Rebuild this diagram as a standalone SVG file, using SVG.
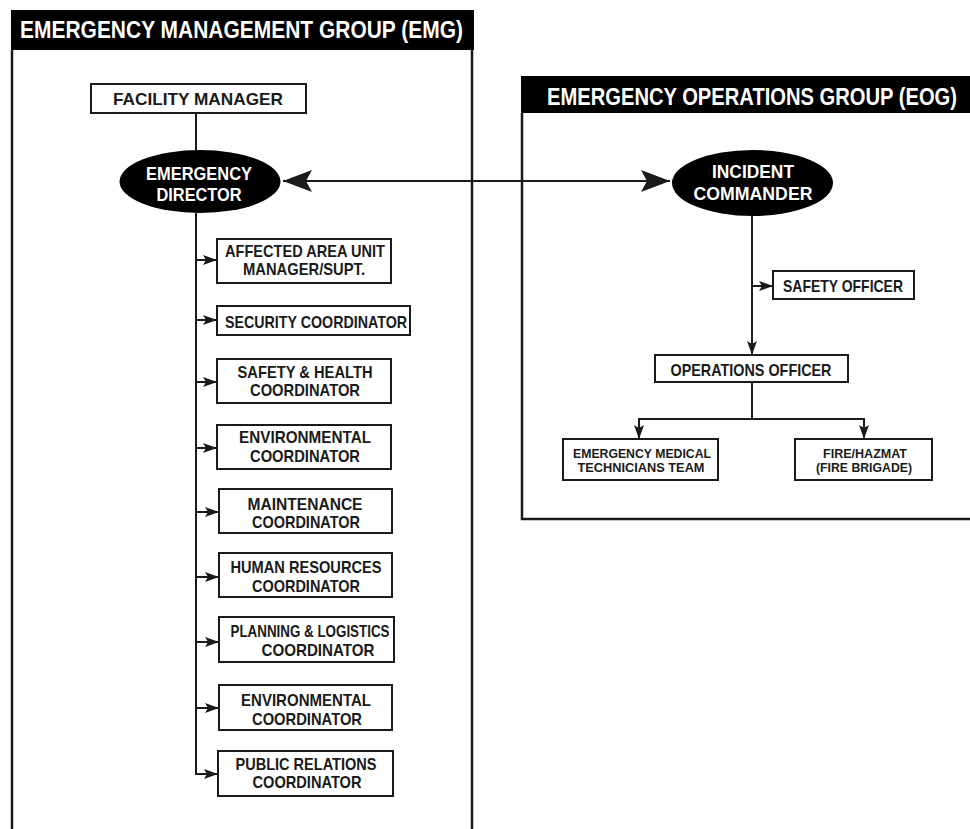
<svg xmlns="http://www.w3.org/2000/svg" width="970" height="829" viewBox="0 0 970 829">
<style>
text{font-family:"Liberation Sans",Arial,sans-serif;font-weight:bold;fill:#1a1a1a;text-anchor:middle}
.hd{fill:#fff;font-size:23px;text-anchor:start}
.el{fill:#fff;font-size:19px}
.bx{fill:#fff;stroke:#1a1a1a;stroke-width:2}
.t{font-size:17px}
.s{font-size:13px}
.frame{stroke:#1a1a1a;stroke-width:2.5;fill:none}
.ln{stroke:#1a1a1a;stroke-width:2;fill:none}
</style>
<defs>
<marker id="a" viewBox="0 0 14 10" refX="14" refY="5" markerWidth="14" markerHeight="10" markerUnits="userSpaceOnUse" orient="auto">
<path d="M0,0 L14,5 L0,10 L3,5 z" fill="#1a1a1a"/>
</marker>
<marker id="b" viewBox="0 0 29 22" refX="29" refY="11" markerWidth="29" markerHeight="22" markerUnits="userSpaceOnUse" orient="auto-start-reverse">
<path d="M0,0 L29,11 L0,22 L6,11 z" fill="#1a1a1a"/>
</marker>
</defs>

<g id="emg-frame">
<rect x="11" y="10" width="463" height="40" fill="#000"/>
<text class="hd" x="20" y="38" textLength="443" lengthAdjust="spacingAndGlyphs">EMERGENCY MANAGEMENT GROUP (EMG)</text>
<path class="frame" d="M12,50 V829 M472,50 V829"/>
</g>

<g id="eog-frame">
<rect x="521" y="76" width="449" height="37" fill="#000"/>
<text class="hd" x="547" y="105" textLength="410" lengthAdjust="spacingAndGlyphs">EMERGENCY OPERATIONS GROUP (EOG)</text>
<path class="frame" d="M522,113 V519 H970"/>
</g>

<g id="connectors">
<line class="ln" x1="196" y1="113" x2="196" y2="150"/>
<line class="ln" x1="283" y1="181" x2="670" y2="181" marker-start="url(#b)" marker-end="url(#b)"/>
<path class="ln" d="M196,213 V774 H218" marker-end="url(#a)"/>
<line class="ln" x1="196" y1="260" x2="217" y2="260" marker-end="url(#a)"/>
<line class="ln" x1="196" y1="320" x2="217" y2="320" marker-end="url(#a)"/>
<line class="ln" x1="196" y1="382" x2="217" y2="382" marker-end="url(#a)"/>
<line class="ln" x1="196" y1="448" x2="217" y2="448" marker-end="url(#a)"/>
<line class="ln" x1="196" y1="512" x2="219" y2="512" marker-end="url(#a)"/>
<line class="ln" x1="196" y1="577" x2="219" y2="577" marker-end="url(#a)"/>
<line class="ln" x1="196" y1="642" x2="219" y2="642" marker-end="url(#a)"/>
<line class="ln" x1="196" y1="708" x2="219" y2="708" marker-end="url(#a)"/>
<line class="ln" x1="752" y1="216" x2="752" y2="355" marker-end="url(#a)"/>
<line class="ln" x1="752" y1="286" x2="773" y2="286" marker-end="url(#a)"/>
<line class="ln" x1="752" y1="382" x2="752" y2="419"/>
<path class="ln" d="M752,419 H639 V439" marker-end="url(#a)"/>
<path class="ln" d="M752,419 H864 V439" marker-end="url(#a)"/>
</g>

<g id="facility-manager">
<rect class="bx" x="91" y="84" width="215" height="29"/>
<text class="t" x="198" y="105" font-size="18" textLength="170" lengthAdjust="spacingAndGlyphs">FACILITY MANAGER</text>
</g>

<g id="emergency-director">
<ellipse cx="200" cy="181.5" rx="80.5" ry="31.5" fill="#000"/>
<text class="el" x="199" y="180" font-size="18" textLength="106" lengthAdjust="spacingAndGlyphs">EMERGENCY</text>
<text class="el" x="199" y="201" font-size="18" textLength="85" lengthAdjust="spacingAndGlyphs">DIRECTOR</text>
</g>

<g id="incident-commander">
<ellipse cx="752.5" cy="183" rx="80.5" ry="33" fill="#000"/>
<text class="el" x="753" y="178" textLength="82" lengthAdjust="spacingAndGlyphs">INCIDENT</text>
<text class="el" x="753" y="200" textLength="119" lengthAdjust="spacingAndGlyphs">COMMANDER</text>
</g>

<g id="affected-area">
<rect class="bx" x="217" y="239" width="174" height="44"/>
<text class="t" x="305" y="257" textLength="160" lengthAdjust="spacingAndGlyphs">AFFECTED AREA UNIT</text>
<text class="t" x="304" y="275" textLength="122" lengthAdjust="spacingAndGlyphs">MANAGER/SUPT.</text>
</g>

<g id="security">
<rect class="bx" x="217" y="306" width="193" height="29"/>
<text class="t" x="316" y="328" textLength="182" lengthAdjust="spacingAndGlyphs">SECURITY COORDINATOR</text>
</g>

<g id="safety-health">
<rect class="bx" x="217" y="359" width="174" height="44"/>
<text class="t" x="305" y="378" textLength="135" lengthAdjust="spacingAndGlyphs">SAFETY &amp; HEALTH</text>
<text class="t" x="305" y="396" textLength="110" lengthAdjust="spacingAndGlyphs">COORDINATOR</text>
</g>

<g id="environmental-1">
<rect class="bx" x="217" y="425" width="174" height="44"/>
<text class="t" x="305" y="443" textLength="132" lengthAdjust="spacingAndGlyphs">ENVIRONMENTAL</text>
<text class="t" x="305" y="462" textLength="110" lengthAdjust="spacingAndGlyphs">COORDINATOR</text>
</g>

<g id="maintenance">
<rect class="bx" x="219" y="489" width="173" height="44"/>
<text class="t" x="305" y="510" textLength="115" lengthAdjust="spacingAndGlyphs">MAINTENANCE</text>
<text class="t" x="306" y="528" textLength="108" lengthAdjust="spacingAndGlyphs">COORDINATOR</text>
</g>

<g id="human-resources">
<rect class="bx" x="219" y="553" width="173" height="44"/>
<text class="t" x="306" y="573" textLength="151" lengthAdjust="spacingAndGlyphs">HUMAN RESOURCES</text>
<text class="t" x="306" y="592" textLength="108" lengthAdjust="spacingAndGlyphs">COORDINATOR</text>
</g>

<g id="planning-logistics">
<rect class="bx" x="219" y="617" width="175" height="45"/>
<text class="t" x="310" y="637" textLength="159" lengthAdjust="spacingAndGlyphs">PLANNING &amp; LOGISTICS</text>
<text class="t" x="318" y="656" textLength="113" lengthAdjust="spacingAndGlyphs">COORDINATOR</text>
</g>

<g id="environmental-2">
<rect class="bx" x="219" y="685" width="173" height="45"/>
<text class="t" x="306" y="706" textLength="130" lengthAdjust="spacingAndGlyphs">ENVIRONMENTAL</text>
<text class="t" x="307" y="725" textLength="110" lengthAdjust="spacingAndGlyphs">COORDINATOR</text>
</g>

<g id="public-relations">
<rect class="bx" x="218" y="751" width="175" height="45"/>
<text class="t" x="306" y="770" textLength="141" lengthAdjust="spacingAndGlyphs">PUBLIC RELATIONS</text>
<text class="t" x="307" y="788" textLength="109" lengthAdjust="spacingAndGlyphs">COORDINATOR</text>
</g>

<g id="safety-officer">
<rect class="bx" x="773" y="271" width="141" height="28"/>
<text class="t" x="843" y="292" font-size="16" textLength="120" lengthAdjust="spacingAndGlyphs">SAFETY OFFICER</text>
</g>

<g id="operations-officer">
<rect class="bx" x="655" y="355" width="193" height="27"/>
<text class="t" x="751" y="376" font-size="16" textLength="161" lengthAdjust="spacingAndGlyphs">OPERATIONS OFFICER</text>
</g>

<g id="emt-team">
<rect class="bx" x="563" y="439" width="155" height="41"/>
<text class="s" x="642" y="458" textLength="138" lengthAdjust="spacingAndGlyphs">EMERGENCY MEDICAL</text>
<text class="s" x="641" y="472" textLength="127" lengthAdjust="spacingAndGlyphs">TECHNICIANS TEAM</text>
</g>

<g id="fire-hazmat">
<rect class="bx" x="795" y="439" width="137" height="41"/>
<text class="s" x="865" y="458" textLength="84" lengthAdjust="spacingAndGlyphs">FIRE/HAZMAT</text>
<text class="s" x="864" y="472" textLength="96" lengthAdjust="spacingAndGlyphs">(FIRE BRIGADE)</text>
</g>
</svg>
